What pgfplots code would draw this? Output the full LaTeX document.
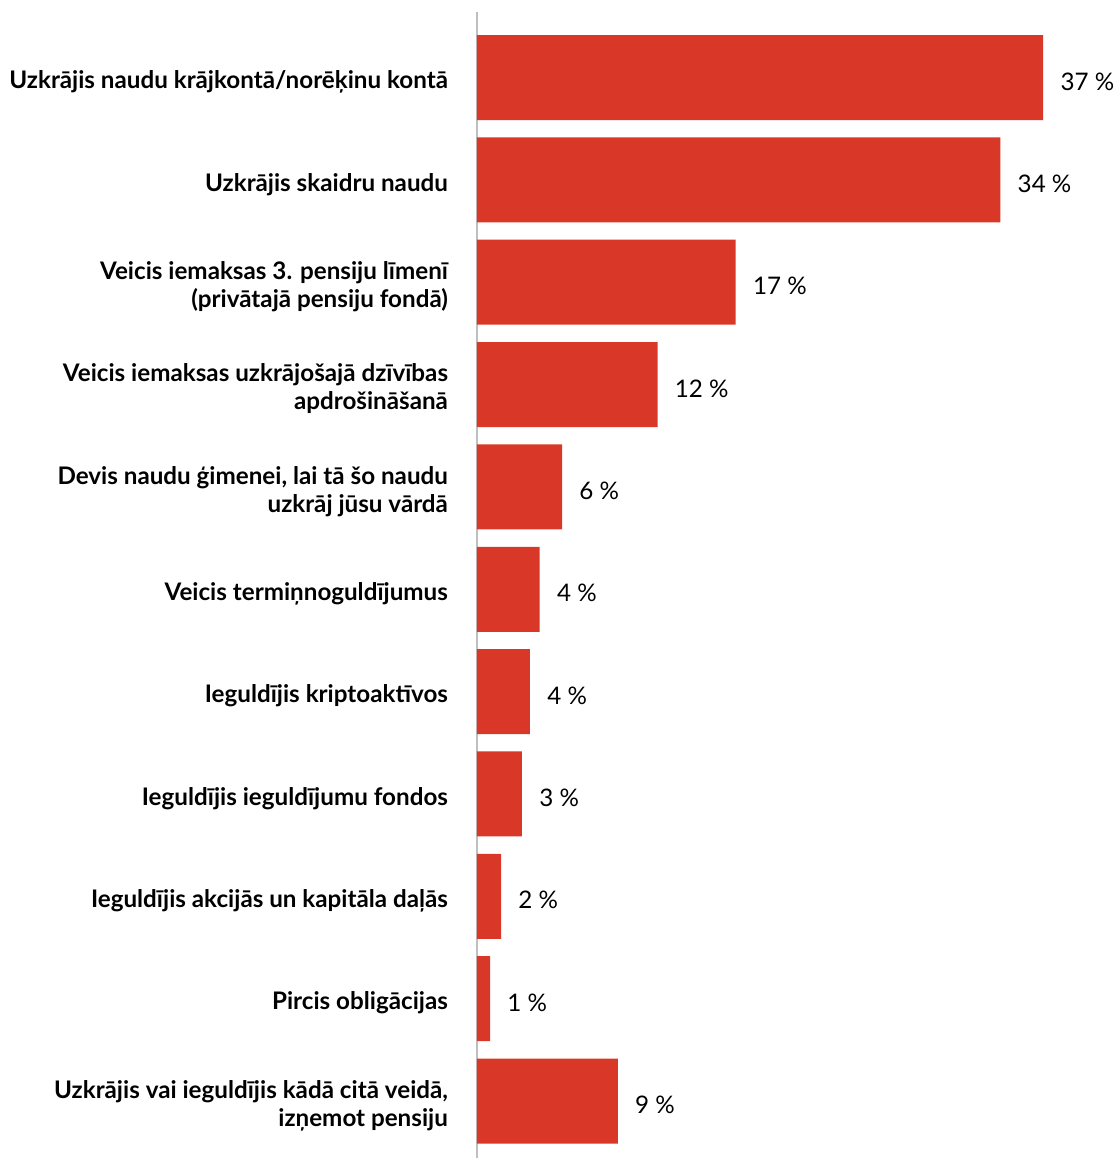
\documentclass[border=0pt]{standalone}
\usepackage{pgfplots}
\pgfplotsset{compat=1.18}
\usepackage{pgfplotstable}
\usepackage{fontspec}
\setmainfont{Lato}
\definecolor{barred}{HTML}{D93828}
\definecolor{axgray}{HTML}{BFBFBF}
\pgfplotstableread{
y x lab
0 37.0 37
1 34.2 34
2 16.9 17
3 11.8 12
4 5.56 6
5 4.1 4
6 3.46 4
7 2.94 3
8 1.57 2
9 0.85 1
10 9.2 9
}\datatab
\begin{document}
\begin{tikzpicture}
\useasboundingbox (0,0) rectangle (558pt,579pt);
\begin{axis}[
  at={(238.5pt,0pt)}, anchor=south west,
  scale only axis,
  width=319.5pt, height=573pt,
  xmin=0, xmax=41.76,
  ymin=-0.64, ymax=10.557,
  y dir=reverse,
  xbar, bar width=42.5pt,
  axis x line=none,
  axis y line*=left,
  y axis line style={draw=axgray, line width=1pt},
  ytick=data,
  ytick style={draw=none},
  major tick length=0pt,
  yticklabels={
    {Uzkrājis naudu krājkontā/norēķinu kontā},
    {Uzkrājis skaidru naudu},
    {Veicis iemaksas 3. pensiju līmenī\\(privātajā pensiju fondā)},
    {Veicis iemaksas uzkrājošajā dzīvības\\apdrošināšanā},
    {Devis naudu ģimenei, lai tā šo naudu\\uzkrāj jūsu vārdā},
    {Veicis termiņnoguldījumus},
    {Ieguldījis kriptoaktīvos},
    {Ieguldījis ieguldījumu fondos},
    {Ieguldījis akcijās un kapitāla daļās},
    {Pircis obligācijas},
    {Uzkrājis vai ieguldījis kādā citā veidā,\\izņemot pensiju}
  },
  yticklabel style={font=\fontsize{12.1}{14}\selectfont\bfseries, align=right, xshift=-11pt, yshift=-2.2pt},
  point meta=explicit symbolic,
  nodes near coords={\pgfplotspointmeta~\%},
  nodes near coords style={font=\fontsize{12.1}{14}\selectfont, anchor=west, inner sep=0pt, xshift=8.5pt, yshift=-2pt},
  clip=false,
]
\addplot[fill=barred, draw=none] table[x=x, y=y, meta=lab]{\datatab};
\end{axis}
\end{tikzpicture}
\end{document}
